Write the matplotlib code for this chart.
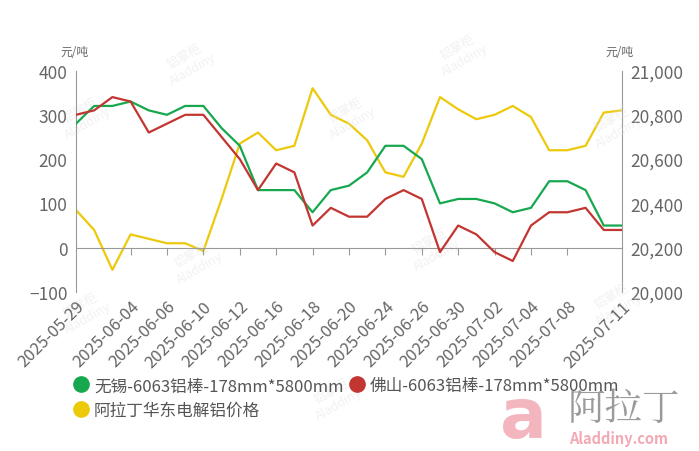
import matplotlib
matplotlib.use("Agg")
import matplotlib.pyplot as plt
from matplotlib.lines import Line2D
from matplotlib.ticker import FuncFormatter

plt.rcParams["font.family"] = ["Noto Sans CJK SC", "DejaVu Sans"]

# ---- data -----------------------------------------------------------------
dates = ["2025-05-29", "2025-05-30", "2025-06-03", "2025-06-04", "2025-06-05",
         "2025-06-06", "2025-06-09", "2025-06-10", "2025-06-11", "2025-06-12",
         "2025-06-13", "2025-06-16", "2025-06-17", "2025-06-18", "2025-06-19",
         "2025-06-20", "2025-06-23", "2025-06-24", "2025-06-25", "2025-06-26",
         "2025-06-27", "2025-06-30", "2025-07-01", "2025-07-02", "2025-07-03",
         "2025-07-04", "2025-07-07", "2025-07-08", "2025-07-09", "2025-07-10",
         "2025-07-11"]
wuxi = [280, 320, 320, 330, 310, 300, 320, 320, 270, 230, 130, 130, 130, 80,
        130, 140, 170, 230, 230, 200, 100, 110, 110, 100, 80, 90, 150, 150,
        130, 50, 50]
foshan = [300, 310, 340, 330, 260, 280, 300, 300, 250, 200, 130, 190, 170, 50,
          90, 70, 70, 110, 130, 110, -10, 50, 30, -10, -30, 50, 80, 80, 90,
          40, 40]
aladdin = [20370, 20280, 20100, 20260, 20240, 20220, 20220, 20185, 20420,
           20670, 20720, 20640, 20660, 20920, 20800, 20760, 20685, 20540,
           20520, 20670, 20880, 20825, 20780, 20800, 20840, 20790, 20640,
           20640, 20660, 20810, 20820]
label_idx = [0, 3, 5, 7, 9, 11, 13, 15, 17, 19, 21, 23, 25, 27, 30]
names = ["无锡-6063铝棒-178mm*5800mm", "佛山-6063铝棒-178mm*5800mm",
         "阿拉丁华东电解铝价格"]

GREEN, RED, YELLOW = "#17a84f", "#c23531", "#edc90c"
GREY = "#666666"
AXIS = "#999999"

fig = plt.figure(figsize=(6.99, 4.52), dpi=100)
ax = fig.add_axes([0.1087, 0.3518, 0.7811, 0.49])
ax2 = ax.twinx()
ax.set_zorder(ax2.get_zorder() + 1)
ax.patch.set_visible(False)

x = list(range(len(dates)))
ax.plot(x, wuxi, color=GREEN, lw=1.6, zorder=3)
ax.plot(x, foshan, color=RED, lw=1.6, zorder=3)
ax2.plot(x, aladdin, color=YELLOW, lw=1.6, zorder=2)

ax.set_xlim(0, len(dates) - 1)
ax.set_ylim(-100, 400)
ax.set_yticks([-100, 0, 100, 200, 300, 400])
ax2.set_ylim(20000, 21000)
ax2.set_yticks([20000, 20200, 20400, 20600, 20800, 21000])
ax2.yaxis.set_major_formatter(FuncFormatter(lambda v, p: f"{v:,.0f}"))

for a in (ax, ax2):
    for s in ("top", "bottom"):
        a.spines[s].set_visible(False)
    a.tick_params(axis="y", length=0, labelsize=12.5, labelcolor=GREY, pad=6)
ax.spines["right"].set_visible(False)
ax2.spines["left"].set_visible(False)
ax.spines["left"].set_color(AXIS)
ax2.spines["right"].set_color(AXIS)

# x axis line sits on zero, labels along the bottom
ax.set_xticks(label_idx[1:-1])
ax.tick_params(axis="x", length=5, color=AXIS, labelbottom=False)
ax.spines["bottom"].set_visible(True)
ax.spines["bottom"].set_position(("data", 0))
ax.spines["bottom"].set_color(AXIS)

sec = ax.secondary_xaxis("bottom")
sec.set_xticks(label_idx, labels=[dates[i] for i in label_idx])
sec.spines["bottom"].set_visible(False)
sec.tick_params(axis="x", length=0, labelsize=12, labelcolor=GREY, pad=4)
for t in sec.get_xticklabels():
    t.set_rotation(45)
    t.set_ha("right")
    t.set_rotation_mode("anchor")

fig.text(0.086, 0.876, "元/吨", fontsize=8.5, color=GREY)
fig.text(0.866, 0.876, "元/吨", fontsize=8.5, color=GREY)

# legend fills row by row: green, red / yellow
handles = [Line2D([], [], ls="none", marker="o", ms=11, color=c)
           for c in (GREEN, YELLOW, RED)]
fig.legend(handles, [names[0], names[2], names[1]], loc="upper left",
           bbox_to_anchor=(0.095, 0.178), ncol=2, frameon=False,
           fontsize=12, labelcolor="#555555", handletextpad=0.25,
           columnspacing=0.3, handlelength=1.0, labelspacing=0.45,
           borderaxespad=0)

# faint watermarks
for wx, wy in [(0.27, 0.86), (0.66, 0.88), (0.12, 0.74), (0.5, 0.74),
               (0.88, 0.72), (0.28, 0.42), (0.62, 0.45), (0.12, 0.31),
               (0.88, 0.33), (0.48, 0.12)]:
    fig.text(wx, wy, "铝掌柜\nAladdiny", fontsize=9, color="#e4e4e4",
             rotation=30, ha="center", va="center", alpha=0.5, zorder=0)

# logo bottom right
fig.text(0.716, 0.0, "a", fontsize=50, color="#f2a9b4", fontweight="bold",
         family=["DejaVu Sans"], alpha=0.85, va="bottom")
fig.text(0.812, 0.07, "阿拉丁", fontsize=27, color="#9a9a9a",
         family=["Noto Serif CJK SC", "Noto Sans CJK SC"])
fig.text(0.814, 0.018, "Aladdiny.com", fontsize=10.5, color="#f2a9b4",
         fontweight="bold")

fig.savefig("out.png", dpi=100)
